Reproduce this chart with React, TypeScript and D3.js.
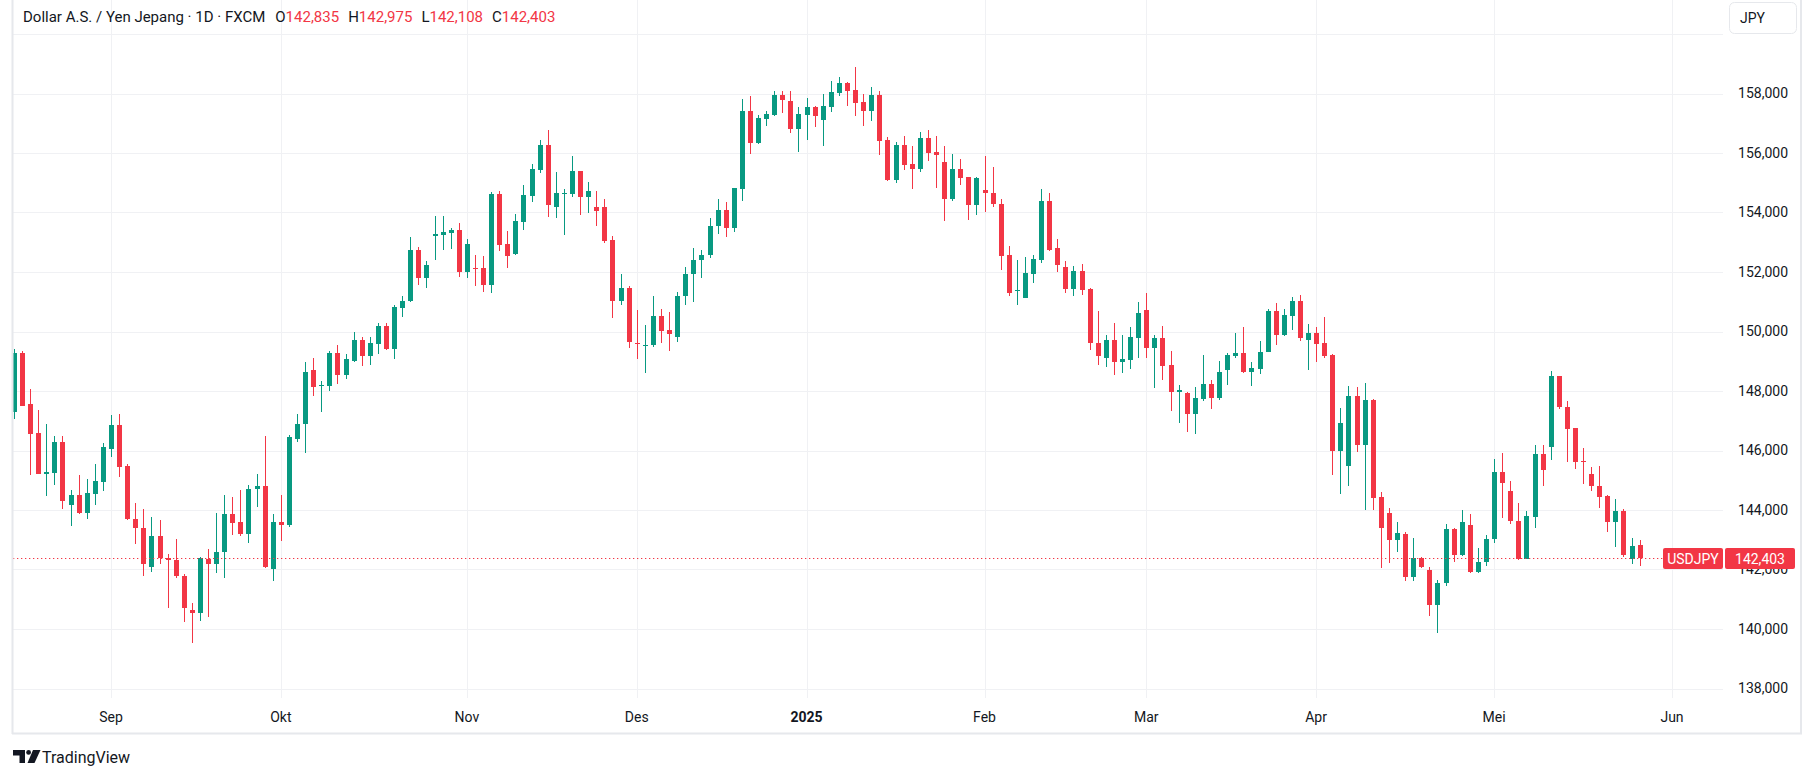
import { useMemo } from 'react';
import * as d3 from 'd3';

// USD/JPY daily candles, FXCM, 15 Aug 2024 – 27 May 2025
const firstDay = '2024-08-15';
const lastDay = '2025-05-27';
const skippedDays = ['2024-12-25', '2025-01-01'];
const futureDays = ['2025-05-28', '2025-05-29', '2025-05-30', '2025-06-02'];

const opens = [
  147.30, 149.28, 147.56, 146.58, 145.22, 145.24, 146.28, 144.16, 144.49, 143.89, 144.53, 144.94,
  146.05, 146.85, 145.47, 143.71, 143.41, 142.10, 143.14, 142.38, 142.33, 141.79, 140.64, 140.55,
  142.36, 142.20, 142.58, 143.88, 143.58, 143.18, 144.70, 144.79, 142.00,
  143.61, 143.49, 146.40, 146.88, 148.69, 148.16, 148.16, 149.29, 148.53, 149.00, 149.73, 149.17,
  149.57, 150.17, 149.40, 150.79, 151.02, 152.73, 151.80, 153.22, 153.25, 153.31, 153.40,
  152.00, 152.15, 152.12, 151.56, 154.62, 152.93, 152.61, 153.69, 154.56, 155.44, 156.28, 154.18,
  154.63, 154.61, 155.38, 154.52, 154.17, 154.17, 153.06, 151.01, 151.47,
  149.60, 149.52, 149.53, 150.53, 150.06, 149.80, 151.18, 151.92, 152.39, 152.56, 153.56, 154.10,
  153.47, 154.78, 157.40, 156.33, 157.13, 157.27, 157.94, 157.74, 156.81,
  157.27, 157.54, 157.10, 157.54, 158.01, 158.35, 158.11, 157.71, 157.40, 157.94, 156.43, 155.08,
  156.26, 155.62, 155.45, 156.49, 156.02, 155.69, 154.44, 155.45, 155.18, 154.24,
  154.74, 154.67, 154.30, 152.58, 151.36, 151.13, 151.94, 152.42, 154.40, 152.79, 152.18, 151.44,
  152.04, 151.44, 149.63, 149.12, 149.70, 148.99, 149.04, 149.79,
  150.73, 149.45, 149.79, 148.88, 147.97, 147.93, 147.22, 147.73, 148.24, 147.76, 148.71, 149.18,
  149.28, 148.64, 148.74, 149.31, 150.70, 149.89, 150.53, 151.03, 149.72,
  149.96, 149.62, 149.21, 145.98, 145.47, 147.83, 146.18, 147.70, 144.43, 143.89, 142.99, 143.20,
  141.76, 142.39, 141.99, 140.82, 141.53, 143.37, 142.49, 143.51, 141.90, 142.24,
  143.01, 145.29, 144.65, 143.64, 142.36, 143.78, 145.87, 146.12, 148.49, 147.47, 146.74, 145.64,
  145.22, 144.82, 144.48, 143.61, 143.98, 142.36, 142.835,
];
const highs = [
  149.42, 149.35, 148.07, 147.36, 146.88, 146.50, 146.48, 144.66, 145.16, 145.03, 145.53, 146.25,
  147.19, 147.22, 145.53, 144.22, 144.02, 143.78, 143.68, 142.53, 143.04, 141.86, 140.88, 142.41,
  142.70, 143.91, 144.49, 144.45, 144.66, 144.83, 145.20, 146.48, 143.88,
  144.52, 146.51, 147.24, 148.99, 149.12, 148.35, 149.36, 149.53, 149.26, 149.97, 149.83, 149.80,
  150.30, 150.27, 150.88, 151.18, 153.17, 152.83, 152.36, 153.88, 153.88, 153.47, 153.64,
  153.10, 152.56, 152.53, 154.69, 154.72, 153.37, 153.94, 154.92, 155.64, 156.45, 156.76, 155.35,
  154.78, 155.89, 155.40, 155.01, 154.71, 154.47, 153.22, 151.94, 151.54,
  150.73, 150.22, 151.20, 150.76, 150.66, 151.34, 152.18, 152.82, 152.75, 153.80, 154.47, 154.34,
  154.84, 157.81, 157.91, 157.27, 157.40, 158.08, 158.08, 158.08, 157.54,
  157.84, 157.57, 157.98, 158.42, 158.55, 158.38, 158.89, 157.98, 158.21, 158.08, 156.53, 156.36,
  156.56, 156.22, 156.70, 156.76, 156.56, 156.22, 155.96, 155.79, 155.21, 155.21,
  155.89, 155.52, 154.44, 152.89, 152.42, 152.52, 152.58, 154.78, 154.67, 153.12, 152.38, 152.21,
  152.28, 151.46, 150.70, 149.87, 150.30, 149.89, 150.16, 151.00,
  151.30, 149.89, 150.19, 149.35, 148.20, 147.95, 148.13, 149.21, 148.37, 149.01, 149.28, 149.96,
  150.16, 148.98, 149.69, 150.76, 150.97, 150.76, 151.17, 151.24, 150.26,
  150.16, 150.49, 149.25, 147.43, 148.17, 148.13, 148.27, 147.73, 144.60, 144.06, 143.60, 143.27,
  143.07, 142.43, 142.09, 141.65, 143.54, 143.39, 144.01, 143.88, 142.73, 143.17,
  145.73, 145.90, 144.99, 144.25, 143.98, 146.17, 146.17, 148.66, 148.51, 147.67, 146.76, 146.07,
  145.43, 145.49, 144.52, 144.38, 144.04, 143.07, 142.975,
];
const lows = [
  147.05, 147.48, 145.16, 145.20, 144.47, 144.84, 144.03, 143.45, 143.87, 143.69, 144.16, 144.63,
  145.78, 145.11, 143.67, 142.85, 141.77, 141.93, 142.17, 140.69, 141.70, 140.25, 139.54, 140.28,
  140.42, 141.87, 141.73, 143.15, 143.12, 142.88, 144.09, 142.04, 141.63,
  142.95, 143.42, 146.27, 145.90, 147.82, 147.31, 147.99, 148.22, 148.39, 148.98, 148.83, 148.87,
  149.24, 149.37, 149.07, 150.48, 150.99, 151.56, 151.46, 152.39, 152.73, 152.76, 151.83,
  151.80, 151.52, 151.33, 151.29, 152.71, 152.13, 152.58, 153.42, 154.36, 155.33, 153.84, 153.83,
  153.26, 154.52, 153.90, 153.97, 153.53, 152.97, 150.44, 150.88, 149.46,
  149.06, 148.62, 149.49, 149.63, 149.36, 149.66, 150.88, 150.98, 151.79, 152.46, 153.29, 153.16,
  153.34, 154.40, 155.96, 156.31, 156.90, 157.25, 157.34, 156.67, 156.03,
  156.43, 156.87, 156.22, 157.37, 157.91, 157.57, 157.24, 156.90, 157.07, 155.92, 155.06, 154.98,
  155.42, 154.78, 155.35, 155.72, 154.81, 153.70, 154.40, 154.91, 153.76, 153.90,
  154.00, 154.17, 152.08, 151.20, 150.90, 151.11, 151.64, 152.31, 152.69, 152.01, 151.30, 151.20,
  151.24, 149.39, 148.89, 148.82, 148.55, 148.60, 148.74, 149.11,
  149.11, 148.10, 148.37, 147.33, 146.92, 146.62, 146.55, 147.66, 147.39, 147.70, 148.20, 149.11,
  148.61, 148.17, 148.57, 149.30, 149.55, 149.85, 150.06, 149.69, 148.71,
  148.98, 149.11, 145.17, 144.53, 144.80, 145.94, 143.99, 143.99, 142.04, 142.21, 142.58, 141.63,
  141.60, 142.05, 140.45, 139.88, 141.43, 142.26, 142.47, 141.88, 141.88, 142.13,
  142.88, 143.72, 143.52, 142.33, 142.34, 143.40, 144.82, 145.68, 147.38, 145.62, 145.39, 144.89,
  144.65, 144.08, 143.27, 142.76, 142.43, 142.20, 142.108,
];
const closes = [
  149.28, 147.50, 146.56, 145.21, 145.27, 146.28, 144.30, 144.49, 143.89, 144.56, 144.96, 146.11,
  146.85, 145.44, 143.69, 143.39, 142.17, 143.14, 142.38, 142.31, 141.77, 140.72, 140.55, 142.37,
  142.20, 142.60, 143.85, 143.55, 143.18, 144.72, 144.79, 142.10, 143.61,
  143.49, 146.45, 146.90, 148.65, 148.12, 148.19, 149.29, 148.53, 149.06, 149.73, 149.17, 149.60,
  150.17, 149.40, 150.81, 151.04, 152.73, 151.80, 152.22, 153.27, 153.34, 153.40, 152.00,
  152.93, 152.10, 151.56, 154.62, 152.91, 152.54, 153.71, 154.58, 155.47, 156.28, 154.25, 154.65,
  154.66, 155.38, 154.52, 154.71, 154.04, 153.03, 151.01, 151.47, 149.66,
  149.57, 149.56, 150.53, 150.03, 149.93, 151.20, 151.94, 152.42, 152.58, 153.56, 154.10, 153.47,
  154.81, 157.40, 156.33, 157.17, 157.30, 157.94, 157.79, 156.81, 157.30,
  157.54, 157.24, 157.57, 158.04, 158.35, 158.08, 157.69, 157.40, 157.94, 156.39, 155.08, 156.26,
  155.58, 155.45, 156.49, 155.99, 155.92, 154.44, 155.45, 155.15, 154.24, 155.15,
  154.64, 154.27, 152.55, 151.30, 151.40, 151.98, 152.45, 154.40, 152.75, 152.25, 151.44, 152.04,
  151.40, 149.60, 149.19, 149.70, 148.96, 149.08, 149.82, 150.63,
  149.45, 149.79, 148.84, 147.97, 148.03, 147.22, 147.76, 148.24, 147.76, 148.64, 149.21, 149.28,
  148.64, 148.78, 149.31, 150.70, 149.89, 150.56, 151.03, 149.79, 149.96,
  149.58, 149.18, 145.98, 146.92, 147.83, 146.18, 147.70, 144.39, 143.39, 142.99, 143.22, 141.76,
  142.39, 142.07, 140.82, 141.55, 143.37, 142.49, 143.61, 141.90, 142.26, 143.03,
  145.29, 144.90, 143.62, 142.36, 143.81, 145.87, 145.33, 148.49, 147.45, 146.73, 145.60, 145.62,
  144.79, 144.45, 143.61, 143.98, 142.49, 142.80, 142.403,
];

const priceTicks = [138, 140, 142, 144, 146, 148, 150, 152, 154, 156, 158, 160];
const monthNames = ['Jan', 'Feb', 'Mar', 'Apr', 'Mei', 'Jun', 'Jul', 'Agu', 'Sep', 'Okt', 'Nov', 'Des'];

const legendName = 'Dollar A.S. / Yen Jepang · 1D · FXCM';
const symbol = 'USDJPY';
const currency = 'JPY';

const UP = '#089981';
const DOWN = '#f23645';
const TEXT = '#131722';
const GRID = '#f0f1f4';
const BORDER = '#e6e8ec';
const FONT = "Roboto, 'Noto Sans', 'DejaVu Sans', sans-serif";

const fmt = (v: number) => d3.format('.3f')(v).replace('.', ',');

// trading calendar: every weekday except the skipped holidays
function tradingDays() {
  const out: string[] = [];
  const iso = d3.utcFormat('%Y-%m-%d');
  for (const d of d3.utcDay.range(new Date(firstDay), d3.utcDay.offset(new Date(lastDay), 1))) {
    const wd = d.getUTCDay();
    if (wd === 0 || wd === 6) continue;
    if (skippedDays.includes(iso(d))) continue;
    out.push(iso(d));
  }
  return out;
}

export default function App() {
  const W = 1813;
  const H = 778;
  const paneLeft = 13;
  const paneRight = 1723;
  const paneBottom = 698;

  const dates = useMemo(() => tradingDays(), []);
  const allDates = [...dates, ...futureDays];

  const x = d3.scaleLinear().domain([0, 205]).range([13.94, 1672]);
  const y = d3.scaleLinear().domain([138, 160]).range([688.5, 34]);

  // first bar of every month -> time axis ticks
  const monthTicks = allDates
    .map((d, i) => ({ d, i }))
    .filter(({ d, i }) => i > 0 && d.slice(5, 7) !== allDates[i - 1].slice(5, 7))
    .map(({ d, i }) => {
      const m = +d.slice(5, 7);
      return { i, label: m === 1 ? d.slice(0, 4) : monthNames[m - 1], bold: m === 1 };
    });

  const last = closes.length - 1;
  const lastUp = closes[last] >= opens[last];
  const lastColor = lastUp ? UP : DOWN;
  const lastY = Math.round(y(closes[last])) + 0.5;

  const legendValues = [
    ['O', opens[last]],
    ['H', highs[last]],
    ['L', lows[last]],
    ['C', closes[last]],
  ] as const;

  return (
    <div style={{ position: 'absolute', left: 0, top: 0, width: W, height: H, background: '#fff' }}>
      <svg width={W} height={H} style={{ display: 'block', fontFamily: FONT }}>
        <defs>
          <clipPath id="pane">
            <rect x={paneLeft} y={0} width={paneRight - paneLeft} height={paneBottom} />
          </clipPath>
        </defs>
        <rect width={W} height={H} fill="#fff" />

        {/* grid */}
        <g clipPath="url(#pane)">
          {priceTicks.map((p) => (
            <line key={p} x1={paneLeft} x2={paneRight} y1={Math.round(y(p)) + 0.5} y2={Math.round(y(p)) + 0.5} stroke={GRID} />
          ))}
          {monthTicks.map((t) => (
            <line key={t.i} x1={Math.round(x(t.i)) + 0.5} x2={Math.round(x(t.i)) + 0.5} y1={0} y2={paneBottom} stroke={GRID} />
          ))}
        </g>

        {/* candles */}
        <g clipPath="url(#pane)">
          {closes.map((c, i) => {
            const o = opens[i];
            const up = c >= o;
            const color = up ? UP : DOWN;
            const cx = Math.round(x(i));
            const top = Math.round(y(Math.max(o, c)));
            const bot = Math.round(y(Math.min(o, c)));
            return (
              <g key={i}>
                <rect x={cx} y={Math.round(y(highs[i]))} width={1} height={Math.max(1, Math.round(y(lows[i])) - Math.round(y(highs[i])))} fill={color} />
                <rect x={cx - 2} y={top} width={5} height={Math.max(1, bot - top)} fill={color} />
              </g>
            );
          })}
          <line x1={paneLeft} x2={paneRight} y1={lastY} y2={lastY} stroke={lastColor} strokeWidth={1} strokeDasharray="1.3 2.7" />
        </g>

        {/* price axis (the 142,000 label sits partly under the last-price tag, as in the original) */}
        {priceTicks
          .filter((p) => p < 160)
          .map((p) => (
            <text key={p} x={1788} y={y(p)} dy="0.35em" textAnchor="end" fontSize={14} fill={TEXT}>
              {fmt(p)}
            </text>
          ))}

        {/* last price labels */}
        <rect x={1663} y={lastY - 10.5} width={60} height={21} rx={2} fill={lastColor} />
        <text x={1693} y={lastY} dy="0.36em" textAnchor="middle" fontSize={14} fill="#fff">
          {symbol}
        </text>
        <rect x={1725} y={lastY - 10.5} width={70} height={21} rx={2} fill={lastColor} />
        <text x={1760} y={lastY} dy="0.36em" textAnchor="middle" fontSize={14} fill="#fff">
          {fmt(closes[last])}
        </text>

        {/* time axis */}
        {monthTicks.map((t) => (
          <text
            key={t.i}
            x={x(t.i)}
            y={717}
            dy="0.35em"
            textAnchor="middle"
            fontSize={14}
            fontWeight={t.bold ? 700 : 400}
            fill={TEXT}
          >
            {t.label}
          </text>
        ))}

        {/* frame */}
        <line x1={12.5} x2={12.5} y1={0} y2={734} stroke={BORDER} strokeWidth={2} />
        <line x1={12} x2={1802} y1={733.5} y2={733.5} stroke={BORDER} strokeWidth={2} />
        <line x1={1801} x2={1801} y1={0} y2={734} stroke={BORDER} strokeWidth={2} />

        {/* currency button */}
        <rect x={1729.5} y={2.5} width={67} height={31} rx={5} fill="#fff" stroke={BORDER} />
        <text x={1740} y={18} dy="0.35em" fontSize={14} fill={TEXT}>
          {currency}
        </text>

        {/* legend */}
        <text x={23} y={17} dy="0.35em" fontSize={15} fill={TEXT}>
          <tspan>{legendName}</tspan>
          {legendValues.map(([k, v], i) => (
            <tspan key={k} dx={i === 0 ? 10 : 9}>
              <tspan fill={TEXT}>{k}</tspan>
              <tspan fill={lastColor}>{fmt(v)}</tspan>
            </tspan>
          ))}
        </text>

        {/* TradingView mark */}
        <g fill={TEXT}>
          <path d="M13 750 H25 V763 H19.5 V755.5 H13 Z" />
          <circle cx={28.6} cy={752.4} r={2.4} />
          <path d="M33 750 H40.5 L34.5 763 H27.5 Z" />
        </g>
        <text x={42} y={757} dy="0.35em" fontSize={16} fill={TEXT}>
          TradingView
        </text>
      </svg>
    </div>
  );
}
